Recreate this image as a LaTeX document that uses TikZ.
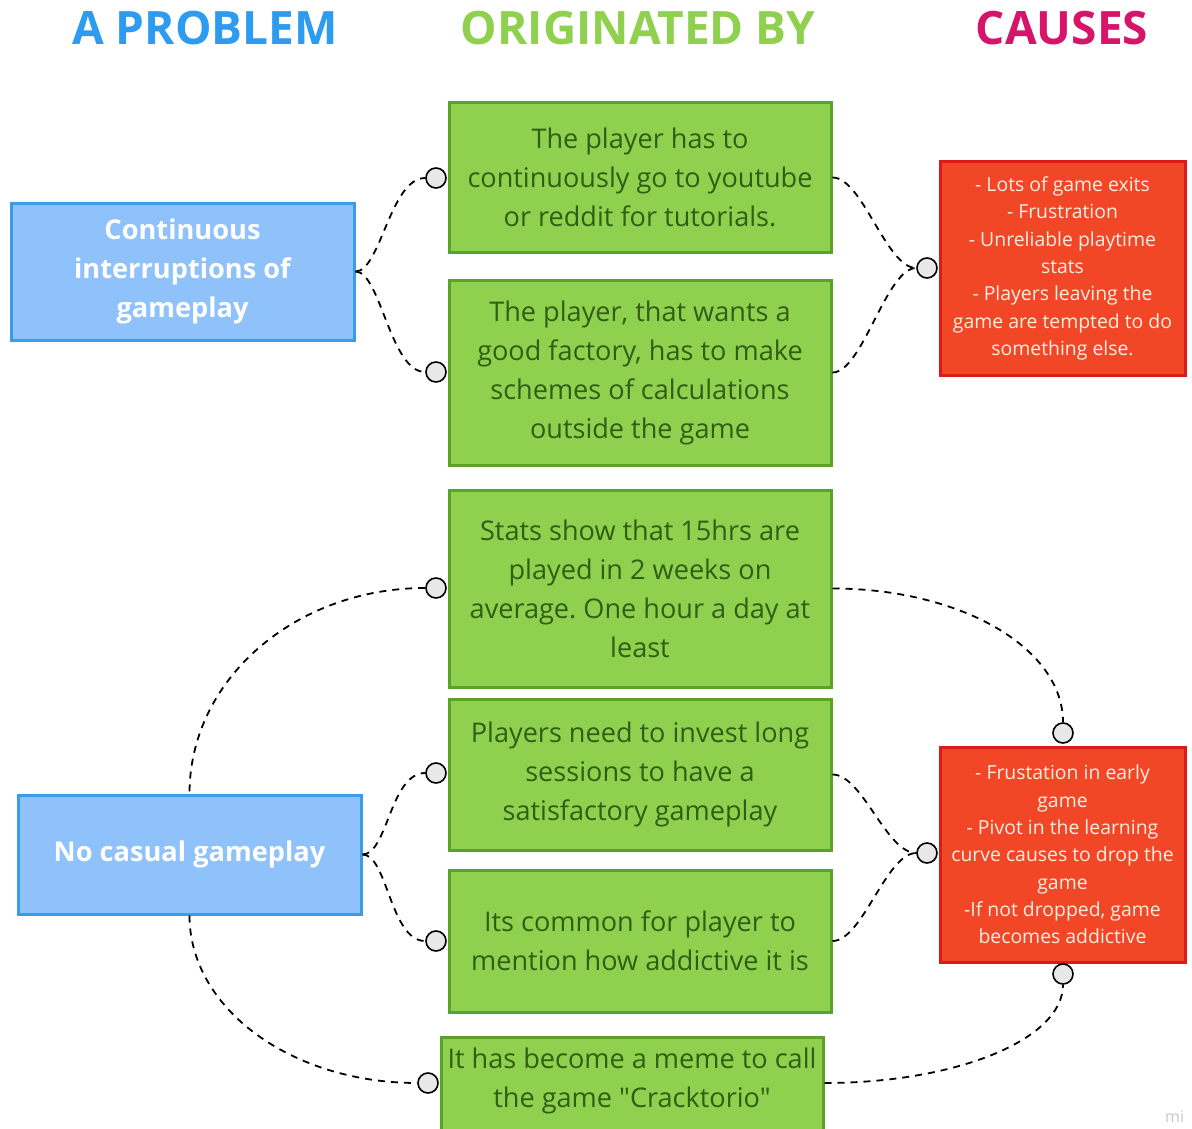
\documentclass[tikz,border=0pt]{standalone}
\usepackage{fontspec}
\setmainfont{Open Sans}[Ligatures=TeXOff]
\frenchspacing
\begin{document}
\definecolor{bluefill}{HTML}{8FC1FA}
\definecolor{blueline}{HTML}{3A9BE6}
\definecolor{greenfill}{HTML}{8FD14F}
\definecolor{greenline}{HTML}{5CA12A}
\definecolor{greentext}{HTML}{2F5E14}
\definecolor{redfill}{HTML}{F24726}
\definecolor{redline}{HTML}{DC1A1A}
\definecolor{redtext}{HTML}{FDEDE3}
\definecolor{headblue}{HTML}{2D9BF0}
\definecolor{headgreen}{HTML}{8FD14F}
\definecolor{headred}{HTML}{D5146A}
\definecolor{knob}{HTML}{E8E8E8}
\begin{tikzpicture}[x=1pt,y=-1pt,
  header/.style={font=\fontsize{46}{50}\selectfont\bfseries, inner sep=0pt},
  problem/.style={draw=blueline, fill=bluefill, line width=3pt, minimum width=343pt,
    text=white, align=center, font=\fontsize{27.2}{39}\selectfont\bfseries},
  origin/.style={draw=greenline, fill=greenfill, line width=3pt, minimum width=382pt,
    text=greentext, align=center, font=\fontsize{27.1}{39}\selectfont},
  gtext/.style={text=greentext, align=center, font=\fontsize{27.1}{39}\selectfont},
  cause/.style={draw=redline, fill=redfill, line width=3pt, minimum width=245pt,
    text=redtext, align=center, font=\fontsize{19.4}{27.3}\selectfont},
  knobc/.style={circle, draw=black, fill=knob, line width=1.6pt, minimum size=20pt, inner sep=0pt},
  conn/.style={draw=black, line width=1.8pt, dash pattern=on 7pt off 6pt}]
\useasboundingbox (0,0) rectangle (1192,1129);
\clip (0,0) rectangle (1192,1129);

% column headings
\node[header, text=headblue]  (hA) at (205,28) {A PROBLEM};
\node[header, text=headgreen] (hB) at (638,28) {ORIGINATED BY};
\node[header, text=headred]   (hC) at (1062,28) {CAUSES};

% problems
\node[problem, minimum height=137pt] (b1) at (182.5,271.5) {Continuous\\interruptions of\\gameplay};
\node[problem, minimum height=119pt] (b2) at (189.5,854.5) {No casual gameplay};

% origins
\node[origin, minimum height=149pt] (g1) at (640,177.5) {The player has to\\continuously go to youtube\\or reddit for tutorials.};
\node[origin, minimum height=185pt] (g2) at (640,372.5) {The player, that wants a\\good factory, has to make\\schemes of calculations\\outside the game};
\node[origin, minimum height=197pt] (g3) at (640,588.5) {Stats show that 15hrs are\\played in 2 weeks on\\average. One hour a day at\\least};
\node[origin, minimum height=151pt] (g4) at (640,774.5) {Players need to invest long\\sessions to have a\\satisfactory gameplay};
\node[origin, minimum height=142pt] (g5) at (640,941) {Its common for player to\\mention how addictive it is};
\node[origin, minimum height=140pt, anchor=north] (g6) at (632,1036) {};
\node[gtext] (g6t) at (632,1081) {It has become a meme to call\\the game "Cracktorio"};

% causes
\node[cause, minimum height=213pt] (r1) at (1062.5,268.5) {- Lots of game exits\\- Frustration\\- Unreliable playtime\\stats\\- Players leaving the\\game are tempted to do\\something else.};
\node[cause, minimum height=215pt] (r2) at (1062.5,854.5) {- Frustation in early\\game\\- Pivot in the learning\\curve causes to drop the\\game\\-If not dropped, game\\becomes addictive};

% connector knobs
\node[knobc] (k1) at (436,178) {};
\node[knobc] (k2) at (436,372) {};
\node[knobc] (k3) at (927,268) {};
\node[knobc] (k4) at (436,588) {};
\node[knobc] (k5) at (436,773) {};
\node[knobc] (k6) at (436,941) {};
\node[knobc] (k7) at (927,853) {};
\node[knobc] (k8) at (1063,733) {};
\node[knobc] (k9) at (1063,974) {};
\node[knobc] (k10) at (428,1083) {};

% upper group
\draw[conn] (b1.east) .. controls +(25,0) and +(-35,0) .. (k1.west);
\draw[conn] (b1.east) .. controls +(25,0) and +(-35,0) .. (k2.west);
\draw[conn] (g1.east) .. controls +(30,0) and +(-30,0) .. (k3.west);
\draw[conn] (g2.east) .. controls +(30,0) and +(-30,0) .. (k3.west);

% lower group
\draw[conn] (b2.east) .. controls +(25,0) and +(-35,0) .. (k5.west);
\draw[conn] (b2.east) .. controls +(25,0) and +(-35,0) .. (k6.west);
\draw[conn] (g4.east) .. controls +(30,0) and +(-30,0) .. (k7.west);
\draw[conn] (g5.east) .. controls +(30,0) and +(-30,0) .. (k7.west);

% long arcs
\draw[conn] (k4.west) .. controls +(-130,0) and +(0,-114) .. (b2.north);
\draw[conn] (g3.east) .. controls +(127,0) and +(0,-75) .. (k8.north);
\draw[conn] (b2.south) .. controls +(0,93) and +(-126,0) .. (k10.west);
\draw[conn] (g6.east |- k10) .. controls +(131,0) and +(0,55) .. (k9.south);

% corner mark
\node[text=black!22, font=\fontsize{16}{18}\selectfont, anchor=west, inner sep=0pt] (mk) at (1165,1117) {mi};
\end{tikzpicture}
\end{document}
